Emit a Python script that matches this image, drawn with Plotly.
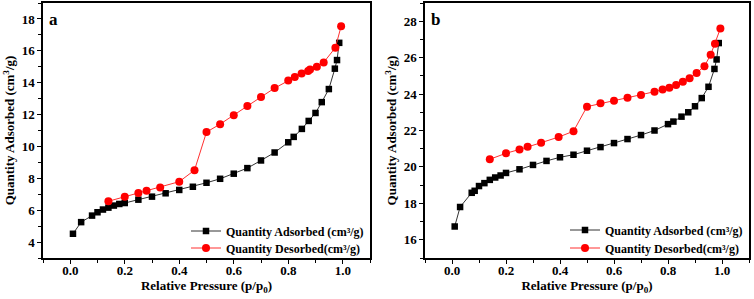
import plotly.graph_objects as go

# Panel a
a_ads_x = [0.01, 0.04, 0.08, 0.10, 0.12, 0.14, 0.16, 0.18, 0.20, 0.25, 0.30, 0.35, 0.40, 0.45,
           0.50, 0.55, 0.60, 0.65, 0.70, 0.75, 0.80, 0.82, 0.85, 0.875, 0.90, 0.923, 0.949,
           0.971, 0.979, 0.987]
a_ads_y = [4.52, 5.25, 5.66, 5.87, 6.04, 6.16, 6.29, 6.39, 6.45, 6.66, 6.85, 7.06, 7.27, 7.47,
           7.72, 7.97, 8.29, 8.64, 9.12, 9.62, 10.26, 10.60, 11.10, 11.60, 12.10, 12.78, 13.60,
           14.88, 15.42, 16.50]
a_des_x = [0.14, 0.20, 0.25, 0.28, 0.33, 0.40, 0.456, 0.50, 0.55, 0.60, 0.65, 0.70, 0.75, 0.80,
           0.824, 0.849, 0.873, 0.88, 0.905, 0.93, 0.973, 0.994]
a_des_y = [6.56, 6.85, 7.08, 7.22, 7.43, 7.79, 8.51, 10.90, 11.40, 11.95, 12.53, 13.10, 13.66,
           14.13, 14.36, 14.57, 14.73, 14.82, 15.00, 15.27, 16.20, 17.54]

# Panel b
b_ads_x = [0.01, 0.03, 0.073, 0.084, 0.10, 0.12, 0.14, 0.16, 0.18, 0.20, 0.25, 0.30, 0.35, 0.40,
           0.45, 0.50, 0.55, 0.60, 0.65, 0.70, 0.75, 0.80, 0.82, 0.85, 0.875, 0.90, 0.925,
           0.95, 0.972, 0.98, 0.988]
b_ads_y = [16.73, 17.80, 18.58, 18.69, 18.95, 19.11, 19.29, 19.42, 19.53, 19.67, 19.87, 20.11,
           20.33, 20.53, 20.67, 20.89, 21.09, 21.31, 21.53, 21.75, 22.00, 22.35, 22.49, 22.76,
           23.00, 23.33, 23.78, 24.40, 25.38, 25.90, 26.80]
b_des_x = [0.14, 0.20, 0.25, 0.28, 0.33, 0.395, 0.45, 0.50, 0.55, 0.60, 0.65, 0.70, 0.75, 0.78,
           0.805, 0.83, 0.855, 0.88, 0.906, 0.935, 0.958, 0.974, 0.994]
b_des_y = [20.42, 20.75, 20.96, 21.11, 21.33, 21.64, 21.96, 23.31, 23.49, 23.64, 23.80, 23.95,
           24.13, 24.25, 24.35, 24.50, 24.67, 24.87, 25.16, 25.53, 26.16, 26.76, 27.60]

x_ticks = [0.0, 0.2, 0.4, 0.6, 0.8, 1.0]
x_tick_labels = ["0.0", "0.2", "0.4", "0.6", "0.8", "1.0"]

ads_name = "Quantity Adsorbed (cm³/g)"
des_name = "Quantity Desorbed(cm³/g)"

FONT = "Liberation Serif"
W, H = 754, 299
ML, MR, MT, MB = 43, 5, 3, 41
PW, PH = W - ML - MR, H - MT - MB

def px_x(x):
    return (x - ML) / PW

def px_y(y):
    return (H - MB - y) / PH

fig = go.Figure()

def add_panel(xs_a, ys_a, xs_d, ys_d, xa, ya, leg_a, leg_d):
    fig.add_trace(go.Scatter(x=xs_a, y=ys_a, mode="lines+markers", name=ads_name,
                             line=dict(color="#333333", width=1),
                             marker=dict(symbol="square", size=6.5, color="black"),
                             xaxis=xa, yaxis=ya, legend=leg_a, showlegend=True))
    fig.add_trace(go.Scatter(x=xs_d, y=ys_d, mode="lines+markers", name=des_name,
                             line=dict(color="#ff3030", width=1),
                             marker=dict(symbol="circle", size=8, color="#ff0000"),
                             xaxis=xa, yaxis=ya, legend=leg_d, showlegend=True))

add_panel(a_ads_x, a_ads_y, a_des_x, a_des_y, "x", "y", "legend2", "legend3")
add_panel(b_ads_x, b_ads_y, b_des_x, b_des_y, "x2", "y2", "legend4", "legend5")

tickfont = dict(family=FONT, size=13, color="black", weight="bold")
titlefont = dict(family=FONT, size=13, color="black", weight="bold")

def xaxis_cfg(dom, anchor):
    return dict(domain=dom, anchor=anchor, range=[-0.1, 1.1], tickvals=x_ticks,
                ticktext=x_tick_labels, ticks="outside", ticklen=4, tickwidth=1.2,
                tickcolor="black", showline=True, linecolor="black", linewidth=1.5,
                mirror=True, showgrid=False, zeroline=False, tickfont=tickfont,
                automargin=False, ticklabelstandoff=-4,
                minor=dict(dtick=0.1, tick0=0, ticks="outside", ticklen=3, tickcolor="black"),
                title=dict(text="Relative Pressure (p/p<sub>0</sub>)", font=titlefont, standoff=4))

def yaxis_cfg(anchor, rng, dtick):
    return dict(domain=[0, 1], anchor=anchor, range=rng, dtick=dtick, tick0=0,
                ticks="outside", ticklen=4, tickwidth=1.2, tickcolor="black",
                showline=True, linecolor="black", linewidth=1.5, mirror=True,
                showgrid=False, zeroline=False, tickfont=tickfont, automargin=False,
                minor=dict(dtick=dtick / 2, ticks="outside", ticklen=3, tickcolor="black"),
                title=dict(text="Quantity Adsorbed (cm<sup>3</sup>/g)", font=titlefont, standoff=4))

legfont = dict(family=FONT, size=12, color="black", weight="bold")

def leg(xr, ymid):
    return dict(x=px_x(xr), xanchor="right", y=px_y(ymid), yanchor="middle",
                bgcolor="rgba(0,0,0,0)", font=legfont, itemwidth=30, tracegroupgap=0,
                borderwidth=0, visible=True)

fig.update_layout(
    width=W, height=H, margin=dict(l=ML, r=MR, t=MT, b=MB, autoexpand=False),
    paper_bgcolor="white", plot_bgcolor="white", showlegend=True,
    xaxis=xaxis_cfg([px_x(43), px_x(370)], "y"),
    yaxis=yaxis_cfg("x", [3, 19], 2),
    xaxis2=xaxis_cfg([px_x(425), px_x(749)], "y2"),
    yaxis2=yaxis_cfg("x2", [15, 29], 2),
    legend2=leg(369, 231),
    legend3=leg(365, 248),
    legend4=leg(748, 230),
    legend5=leg(744, 248),
    annotations=[
        dict(text="a", x=0.0, y=0.935, xref="x domain", yref="y domain", showarrow=False,
             xanchor="left", yanchor="middle", xshift=4,
             font=dict(family=FONT, size=17, color="black", weight="bold")),
        dict(text="b", x=0.0, y=0.935, xref="x2 domain", yref="y2 domain", showarrow=False,
             xanchor="left", yanchor="middle", xshift=4,
             font=dict(family=FONT, size=17, color="black", weight="bold")),
    ],
)

fig.write_html("out.html", config={"displayModeBar": False},
               post_script="document.body.style.margin='0';document.body.style.overflow='hidden';")
